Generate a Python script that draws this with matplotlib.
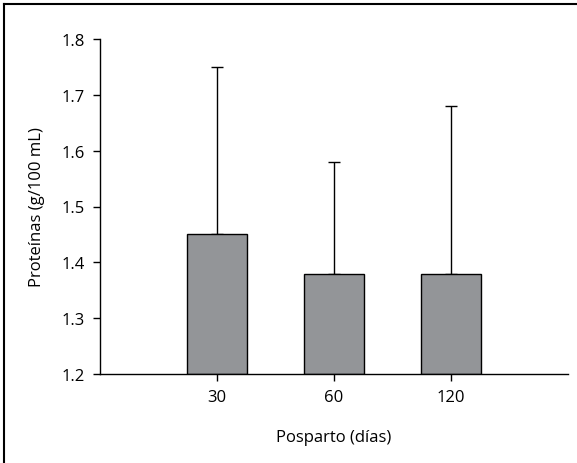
import matplotlib
matplotlib.use('Agg')
import matplotlib.pyplot as plt
from matplotlib.lines import Line2D

categories = ['30', '60', '120']
means = [1.45, 1.38, 1.38]
upper_err = [0.30, 0.20, 0.30]

plt.rcParams['font.family'] = ['Open Sans', 'DejaVu Sans']

fig = plt.figure(figsize=(5.77, 4.64), dpi=100)
ax = fig.add_axes([100 / 577, 1 - 375 / 464, 468 / 577, 335 / 464])

x = list(range(len(categories)))
ax.bar(x, [m - 1.2 for m in means], bottom=1.2, width=0.52, color='#939598',
       edgecolor='black', linewidth=1.0, zorder=2)
ax.errorbar(x, means, yerr=[[0] * len(means), upper_err], fmt='none',
            ecolor='black', elinewidth=1.0, capsize=4.3, capthick=1.0, zorder=1)

ax.set_xlim(-1, 3)
ax.set_ylim(1.2, 1.8)
ax.set_xticks(x)
ax.set_xticklabels(categories)
ax.set_yticks([1.2, 1.3, 1.4, 1.5, 1.6, 1.7, 1.8])
ax.set_yticklabels(['1.2', '1.3', '1.4', '1.5', '1.6', '1.7', '1.8'])
ax.tick_params(axis='both', labelsize=12, length=5, width=1, direction='out', pad=6)
for s in ['top', 'right']:
    ax.spines[s].set_visible(False)
for s in ['left', 'bottom']:
    ax.spines[s].set_linewidth(1.0)

ax.set_xlabel('Posparto (días)', fontsize=12, labelpad=17)
ax.set_ylabel('Proteínas (g/100 mL)', fontsize=12, labelpad=12)

# frame lines at left and top of the figure
fig.add_artist(Line2D([4 / 577, 4 / 577], [0, 1 - 5 / 464], color='black', linewidth=1.5,
                      transform=fig.transFigure))
fig.add_artist(Line2D([4 / 577, 1], [1 - 5 / 464, 1 - 5 / 464], color='black', linewidth=1.5,
                      transform=fig.transFigure))

fig.savefig('out.png', dpi=100)
